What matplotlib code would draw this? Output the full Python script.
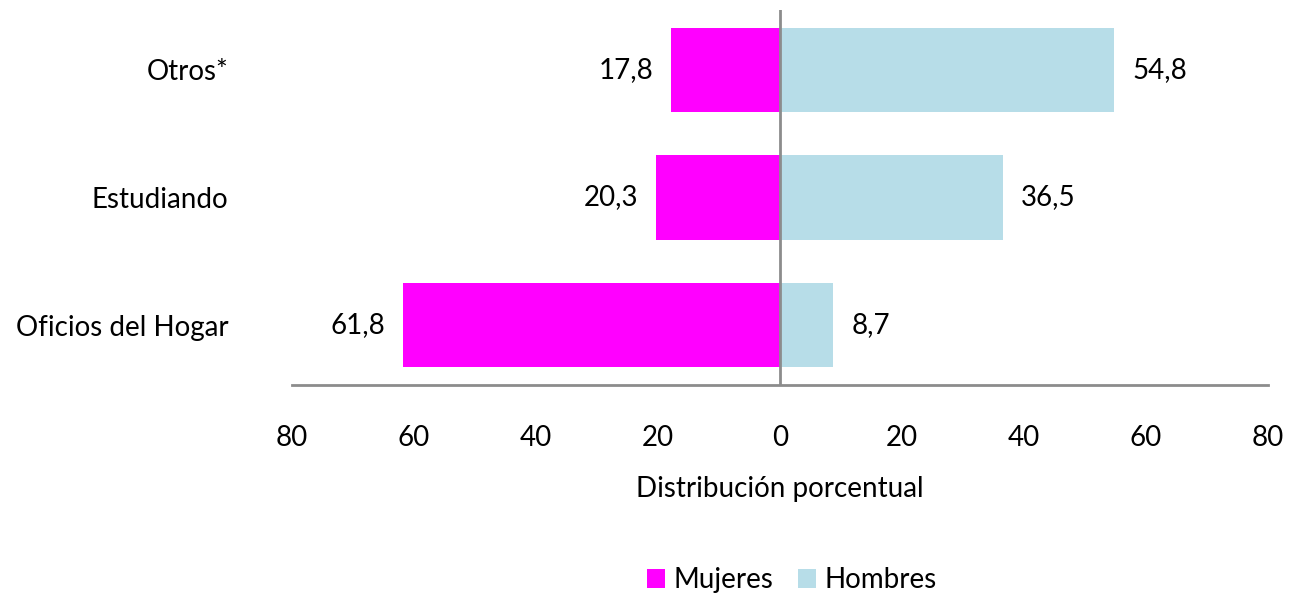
import matplotlib
matplotlib.use("Agg")
import matplotlib.pyplot as plt
import numpy as np

categories = ["Oficios del Hogar", "Estudiando", "Otros*"]
mujeres = [61.8, 20.3, 17.8]
hombres = [8.7, 36.5, 54.8]
xticks = [-80, -60, -40, -20, 0, 20, 40, 60, 80]
xtick_labels = ["80", "60", "40", "20", "0", "20", "40", "60", "80"]

plt.rcParams['font.family'] = ['Lato', 'DejaVu Sans']
FS = 20

fig = plt.figure(figsize=(12.91, 6.0), dpi=100)
ax = fig.add_axes([0.2262, 0.3583, 0.756, 0.625])

y = np.arange(len(categories))
h = 0.66
c_m = "#FF00FF"
c_h = "#B7DDE8"
ax.barh(y, [-v for v in mujeres], height=h, color=c_m, label="Mujeres", zorder=2)
ax.barh(y, hombres, height=h, color=c_h, label="Hombres", zorder=2)
ax.axvline(0, color="#8c8c8c", lw=2, zorder=3)

for yi, v in zip(y, mujeres):
    ax.annotate(f"{v:.1f}".replace(".", ","), (-v, yi), xytext=(-13, 0),
                textcoords="offset points", ha="right", va="center", fontsize=FS)
for yi, v in zip(y, hombres):
    ax.annotate(f"{v:.1f}".replace(".", ","), (v, yi), xytext=(13, 0),
                textcoords="offset points", ha="left", va="center", fontsize=FS)

ax.set_xlim(-80, 80)
ax.set_ylim(-0.47, 2.47)
ax.set_xticks(xticks)
ax.set_xticklabels(xtick_labels, fontsize=FS)
ax.set_yticks(y)
ax.set_yticklabels(categories, fontsize=FS)
ax.tick_params(axis="x", length=0, pad=29)
ax.tick_params(axis="y", length=0, pad=46)
for s in ["top", "right", "left"]:
    ax.spines[s].set_visible(False)
ax.spines["bottom"].set_color("#8c8c8c")
ax.spines["bottom"].set_linewidth(2)
ax.set_xlabel("Distribución porcentual", fontsize=FS, labelpad=18)

fig.legend(loc="center", bbox_to_anchor=(0.6135, 0.033), ncol=2, frameon=False,
           fontsize=FS, handlelength=0.65, handleheight=0.65, handletextpad=0.3,
           columnspacing=0.9)

fig.savefig("out.png", dpi=100)
